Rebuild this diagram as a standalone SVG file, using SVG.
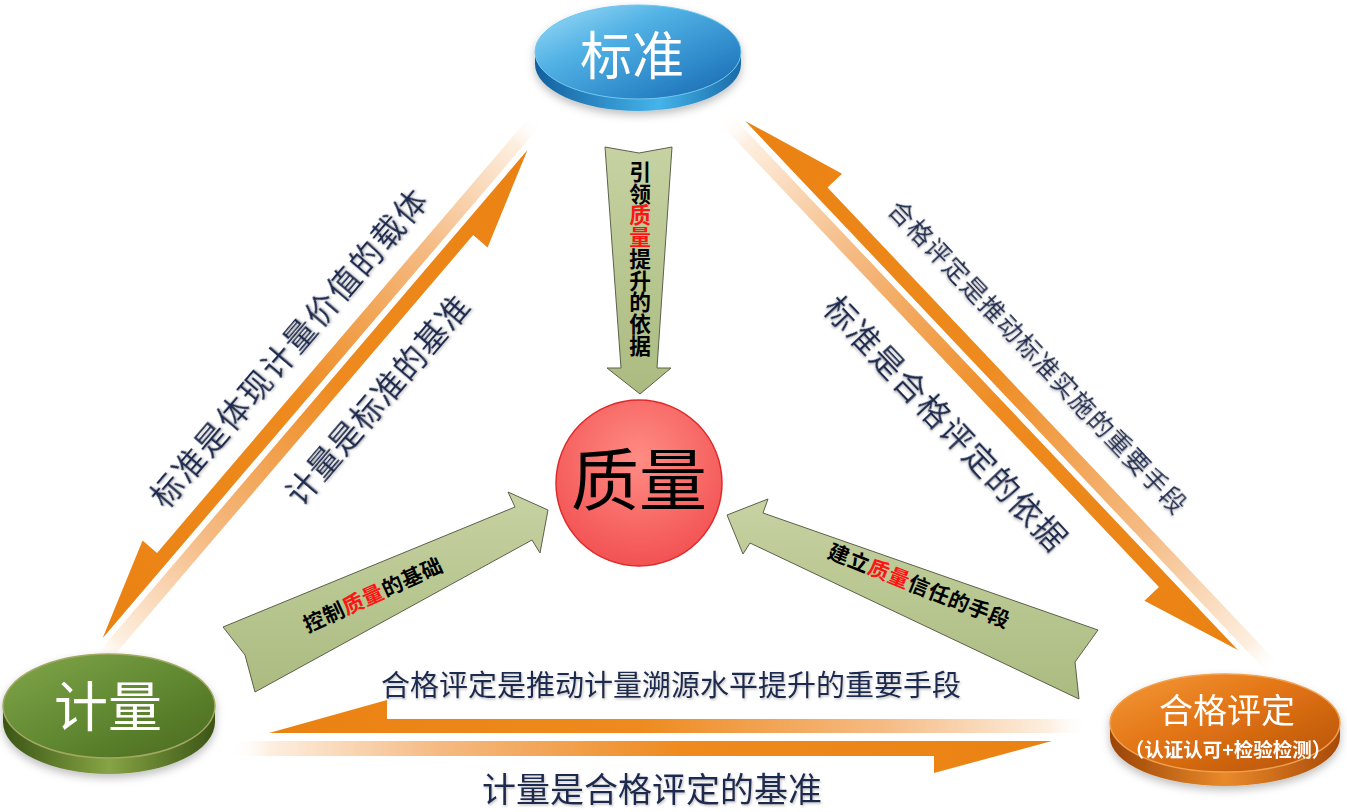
<svg xmlns="http://www.w3.org/2000/svg" width="1347" height="812" viewBox="0 0 1347 812">
<defs>
<style>
.lbl{font-family:"Noto Sans CJK SC","Liberation Sans",sans-serif;fill:#1e2b4f;filter:url(#ts)}
.gtx{font-family:"Noto Sans CJK SC","Liberation Sans",sans-serif;font-weight:700;fill:#000}
.red{fill:#ff1414}
.ntx{font-family:"Noto Sans CJK SC","Liberation Sans",sans-serif;fill:#fff;text-anchor:middle}
.garrow{fill:url(#gGreen);stroke:#5c604c;stroke-width:1}
</style>
<filter id="ts" x="-10%" y="-10%" width="120%" height="130%">
<feDropShadow dx="1" dy="1.5" stdDeviation="0.8" flood-color="#777" flood-opacity="0.45"/>
</filter>
<filter id="sh" x="-20%" y="-20%" width="140%" height="160%">
<feDropShadow dx="0" dy="4" stdDeviation="4" flood-color="#000" flood-opacity="0.25"/>
</filter>
<linearGradient id="gGreen" x1="0" y1="0" x2="0" y2="1">
<stop offset="0" stop-color="#c6d2a2"/><stop offset="1" stop-color="#abbb80"/>
</linearGradient>
<linearGradient id="blueTop" x1="0" y1="0" x2="1" y2="1">
<stop offset="0" stop-color="#a2def8"/><stop offset="0.35" stop-color="#52b2e5"/><stop offset="0.75" stop-color="#2a84c6"/><stop offset="1" stop-color="#1a62a5"/>
</linearGradient>
<linearGradient id="blueSide" x1="0" y1="0" x2="1" y2="0">
<stop offset="0" stop-color="#135f9e"/><stop offset="0.6" stop-color="#45b4ea"/><stop offset="1" stop-color="#1a6aa8"/>
</linearGradient>
<linearGradient id="greenTop" x1="0" y1="0" x2="1" y2="1">
<stop offset="0" stop-color="#82a64c"/><stop offset="0.5" stop-color="#628a32"/><stop offset="1" stop-color="#49691e"/>
</linearGradient>
<linearGradient id="greenSide" x1="0" y1="0" x2="1" y2="0">
<stop offset="0" stop-color="#3b5516"/><stop offset="0.5" stop-color="#86a444"/><stop offset="1" stop-color="#3b5516"/>
</linearGradient>
<linearGradient id="orTop" x1="0" y1="0" x2="1" y2="1">
<stop offset="0" stop-color="#f59a3a"/><stop offset="0.45" stop-color="#e27414"/><stop offset="1" stop-color="#b3500b"/>
</linearGradient>
<linearGradient id="orSide" x1="0" y1="0" x2="1" y2="0">
<stop offset="0" stop-color="#9a4406"/><stop offset="0.5" stop-color="#e9892a"/><stop offset="1" stop-color="#a84a08"/>
</linearGradient>
<radialGradient id="redFill" cx="0.5" cy="0.35" r="0.65">
<stop offset="0" stop-color="#ff8c84"/><stop offset="1" stop-color="#f25252"/>
</radialGradient>
<linearGradient id="gA" gradientUnits="userSpaceOnUse" x1="0" y1="0" x2="678" y2="0">
<stop offset="0" stop-color="#ea8212"/><stop offset="0.45" stop-color="#ee8a1e"/><stop offset="0.75" stop-color="#f5bb84"/><stop offset="0.95" stop-color="#fdefe0"/><stop offset="1" stop-color="#fff" stop-opacity="0"/>
</linearGradient>
<linearGradient id="gB" gradientUnits="userSpaceOnUse" x1="647" y1="0" x2="-25" y2="0">
<stop offset="0" stop-color="#ea8212"/><stop offset="0.45" stop-color="#ee8a1e"/><stop offset="0.75" stop-color="#f5bb84"/><stop offset="0.95" stop-color="#fdefe0"/><stop offset="1" stop-color="#fff" stop-opacity="0"/>
</linearGradient>
<linearGradient id="gC" gradientUnits="userSpaceOnUse" x1="0" y1="0" x2="765" y2="0">
<stop offset="0" stop-color="#ea8212"/><stop offset="0.45" stop-color="#ee8a1e"/><stop offset="0.75" stop-color="#f5bb84"/><stop offset="0.95" stop-color="#fdefe0"/><stop offset="1" stop-color="#fff" stop-opacity="0"/>
</linearGradient>
<linearGradient id="gD" gradientUnits="userSpaceOnUse" x1="723" y1="0" x2="-20" y2="0">
<stop offset="0" stop-color="#ea8212"/><stop offset="0.45" stop-color="#ee8a1e"/><stop offset="0.75" stop-color="#f5bb84"/><stop offset="0.95" stop-color="#fdefe0"/><stop offset="1" stop-color="#fff" stop-opacity="0"/>
</linearGradient>
<linearGradient id="gE" gradientUnits="userSpaceOnUse" x1="269" y1="0" x2="1090" y2="0">
<stop offset="0" stop-color="#ea8212"/><stop offset="0.45" stop-color="#ee8a1e"/><stop offset="0.75" stop-color="#f5bb84"/><stop offset="0.95" stop-color="#fdefe0"/><stop offset="1" stop-color="#fff" stop-opacity="0"/>
</linearGradient>
<linearGradient id="gF" gradientUnits="userSpaceOnUse" x1="1052" y1="0" x2="229" y2="0">
<stop offset="0" stop-color="#ea8212"/><stop offset="0.45" stop-color="#ee8a1e"/><stop offset="0.75" stop-color="#f5bb84"/><stop offset="0.95" stop-color="#fdefe0"/><stop offset="1" stop-color="#fff" stop-opacity="0"/>
</linearGradient>
</defs>
<rect width="1347" height="812" fill="#fff"/>

<g id="connectors">
  <!-- left pair: 计量 <-> 标准 -->
  <g transform="translate(105,640) rotate(-49.5)">
    <polygon points="0,-3 678,-3 678,-17 100,-17 100,-36" fill="url(#gA)"/>
    <polygon points="-25,3 647,3 547,36 547,17 -25,17" fill="url(#gB)"/>
    <text class="lbl" x="342" y="-38" font-size="32" letter-spacing="2" text-anchor="middle">标准是体现计量价值的载体</text>
    <text class="lbl" x="360" y="63" font-size="32" letter-spacing="1" text-anchor="middle">计量是标准的基准</text>
  </g>
  <!-- right pair: 标准 <-> 合格评定 -->
  <g transform="translate(743,123) rotate(46.57)">
    <polygon points="0,-3 765,-3 765,-17 105,-17 105,-37" fill="url(#gC)"/>
    <polygon points="-20,3 723,3 623,37 623,17 -20,17" fill="url(#gD)"/>
    <text class="lbl" x="373" y="-44" font-size="25" letter-spacing="1.3" text-anchor="middle">合格评定是推动标准实施的重要手段</text>
    <text class="lbl" x="358" y="71" font-size="32" letter-spacing="1.7" text-anchor="middle">标准是合格评定的依据</text>
  </g>
  <!-- bottom pair: 合格评定 <-> 计量 -->
  <polygon points="269,733 1090,733 1090,719 387,719 387,700" fill="url(#gE)"/>
  <polygon points="229,741 1052,741 934,773 934,756 229,756" fill="url(#gF)"/>
  <text class="lbl" x="671" y="696" font-size="29" text-anchor="middle">合格评定是推动计量溯源水平提升的重要手段</text>
  <text class="lbl" x="652" y="802" font-size="34" text-anchor="middle">计量是合格评定的基准</text>

  <!-- green arrows to 质量 -->
  <polygon class="garrow" points="605,147 639,153 672,147 657,368 671,368 640,394 607,368 621,368"/>
  <text class="gtx" x="640" y="161" font-size="21.7" style="writing-mode:vertical-rl">引领<tspan class="red">质量</tspan>提升的依据</text>
  <polygon class="garrow" points="223,627 515,507 508,492 548,510 540,553 532,540 255,692 245,655"/>
  <text class="gtx" font-size="21" text-anchor="middle" transform="translate(373,595) rotate(-24.5)" x="0" y="7.5" letter-spacing="0.5">控制<tspan class="red">质量</tspan>的基础</text>
  <polygon class="garrow" points="727,515 768,499 763,513 1098,630 1075,662 1079,699 750,543 743,554"/>
  <text class="gtx" font-size="21" text-anchor="middle" transform="translate(919,586) rotate(21.7)" x="0" y="7.5" letter-spacing="0.5">建立<tspan class="red">质量</tspan>信任的手段</text>
</g>

<g id="node-biaozhun" filter="url(#sh)">
  <path d="M535,52 L535,64 A103,47 0 0 0 741,64 L741,52 A103,47 0 0 1 535,52 Z" fill="url(#blueSide)"/>
  <ellipse cx="638" cy="52" rx="103" ry="47" fill="url(#blueTop)" stroke="#6cc6ef" stroke-width="1"/>
  <text class="ntx" x="632" y="75" font-size="52">标准</text>
</g>

<g id="node-jiliang" filter="url(#sh)">
  <path d="M3,706 L3,722 A106,52 0 0 0 215,722 L215,706 A106,52 0 0 1 3,706 Z" fill="url(#greenSide)"/>
  <ellipse cx="109" cy="706" rx="106" ry="52" fill="url(#greenTop)" stroke="#a3a862" stroke-width="1.5"/>
  <text class="ntx" x="108" y="727" font-size="54">计量</text>
</g>

<g id="node-hege" filter="url(#sh)">
  <path d="M1110,723 L1110,737 A115,49 0 0 0 1340,737 L1340,723 A115,49 0 0 1 1110,723 Z" fill="url(#orSide)"/>
  <ellipse cx="1225" cy="723" rx="115" ry="49" fill="url(#orTop)" stroke="#f0a050" stroke-width="1.5"/>
  <text class="ntx" x="1227" y="723" font-size="34">合格评定</text>
  <text class="ntx" x="1228" y="757" font-size="19.5" font-weight="700">（认证认可+检验检测）</text>
</g>

<g id="node-zhiliang">
  <circle cx="639" cy="483" r="83" fill="url(#redFill)" stroke="#e02a2a" stroke-width="1.5"/>
  <text x="639" y="505" font-size="68" text-anchor="middle" fill="#000" font-family="Noto Sans CJK SC, Liberation Serif, serif">质量</text>
</g>
</svg>
